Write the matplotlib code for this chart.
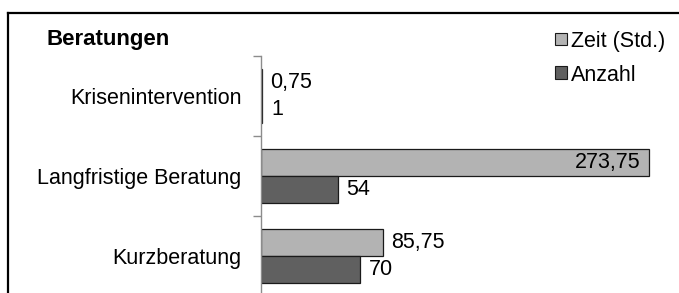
import matplotlib.pyplot as plt
from matplotlib.patches import Rectangle
from matplotlib.lines import Line2D

categories = ["Krisenintervention", "Langfristige Beratung", "Kurzberatung"]
zeit = [0.75, 273.75, 85.75]
anzahl = [1, 54, 70]
zeit_labels = ["0,75", "273,75", "85,75"]
anzahl_labels = ["1", "54", "70"]
series_names = ["Zeit (Std.)", "Anzahl"]

light = "#b3b3b3"
dark = "#606060"
edge = "#1a1a1a"

plt.rcParams["font.family"] = ["Liberation Sans", "DejaVu Sans"]

W, H = 679, 293
fig = plt.figure(figsize=(W / 100, H / 100), dpi=100)

# axes placed by pixel: spine at x=261, category band 56..296
ax = fig.add_axes([261 / W, 1 - 296 / H, 411 / W, 240 / H])
ax.set_xlim(0, 411 / 1.419)
ax.set_ylim(2.5, -0.5)

h = 0.34
ypos = list(range(len(categories)))
ax.barh([y - h / 2 for y in ypos], zeit, height=h, color=light,
        edgecolor=edge, linewidth=0.9)
ax.barh([y + h / 2 for y in ypos], anzahl, height=h, color=dark,
        edgecolor=edge, linewidth=0.9)

fs = 15.5
for y, v, lab in zip(ypos, zeit, zeit_labels):
    if v > 200:
        ax.text(v - 6, y - h / 2, lab, ha="right", va="center", fontsize=fs)
    else:
        ax.text(v + 6, y - h / 2, lab, ha="left", va="center", fontsize=fs)
for y, v, lab in zip(ypos, anzahl, anzahl_labels):
    ax.text(v + 6, y + h / 2, lab, ha="left", va="center", fontsize=fs)

for s in ["top", "right", "bottom"]:
    ax.spines[s].set_visible(False)
ax.spines["left"].set_color("#8c8c8c")
ax.spines["left"].set_linewidth(1.0)
ax.set_xticks([])
ax.set_yticks([-0.5, 0.5, 1.5, 2.5])
ax.set_yticklabels([])
ax.set_yticks(ypos, minor=True)
ax.set_yticklabels(categories, minor=True, fontsize=fs)
ax.tick_params(axis="y", which="major", length=6, color="#8c8c8c", width=1)
ax.tick_params(axis="y", which="minor", length=0, pad=14)

fig.text(47 / W, 1 - 39 / H, "Beratungen", fontsize=16, fontweight="bold",
         ha="left", va="center")

handles = [Rectangle((0, 0), 1, 1, facecolor=light, edgecolor=edge, linewidth=0.8),
           Rectangle((0, 0), 1, 1, facecolor=dark, edgecolor=edge, linewidth=0.8)]
fig.legend(handles, series_names, loc="upper right",
           bbox_to_anchor=(674 / W, 1 - 22 / H), frameon=False, fontsize=fs,
           handlelength=0.55, handleheight=0.55, handletextpad=0.2,
           labelspacing=0.6, borderaxespad=0)

# outer chart frame (runs off the right and bottom edges)
fig.add_artist(Line2D([8 / W, 8 / W], [-0.1, 1 - 13 / H], color="black",
                      linewidth=1.6, transform=fig.transFigure))
fig.add_artist(Line2D([8 / W, 1.1], [1 - 13 / H, 1 - 13 / H], color="black",
                      linewidth=1.6, transform=fig.transFigure))

fig.savefig("out.png", dpi=100)
